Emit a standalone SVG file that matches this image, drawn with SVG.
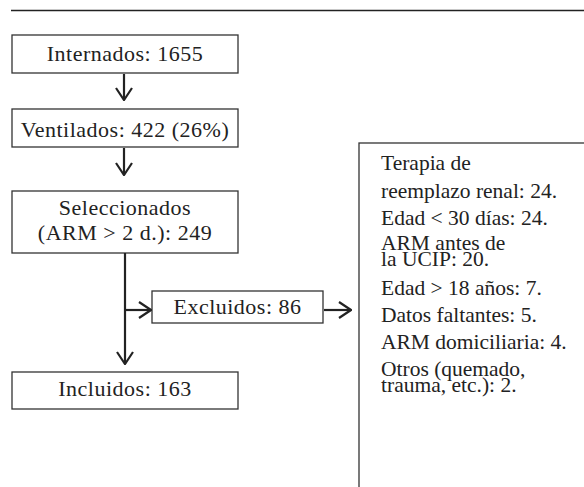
<svg xmlns="http://www.w3.org/2000/svg" width="584" height="487" viewBox="0 0 584 487">
<style>
.box{fill:#fff;stroke:#333;stroke-width:1.3}
.t{font-family:"Liberation Serif","Times New Roman",serif;font-size:22px;letter-spacing:0.5px;fill:#222}
.r{font-size:21.5px;letter-spacing:0}
.c{text-anchor:middle}
.ln{fill:none;stroke:#222;stroke-width:2.2}
</style>
<defs>
<marker id="ah" viewBox="0 0 14 18" refX="13" refY="9" markerWidth="14" markerHeight="18" markerUnits="userSpaceOnUse" orient="auto">
<polyline points="1,1 13,9 1,17" fill="none" stroke="#222" stroke-width="2.2"/>
</marker>
</defs>
<rect width="584" height="487" fill="#fff"/>
<line x1="11" y1="10.5" x2="584" y2="10.5" stroke="#222" stroke-width="1.5"/>
<g id="n1"><rect class="box" x="12" y="35" width="226" height="38"/><text class="t c" x="125" y="61">Internados: 1655</text></g>
<g id="n2"><rect class="box" x="12" y="109" width="226" height="38"/><text class="t c" x="125" y="137">Ventilados: 422 (26%)</text></g>
<g id="n3"><rect class="box" x="12" y="191" width="226" height="62"/><text class="t c" x="125" y="215">Seleccionados</text><text class="t c" x="125" y="240">(ARM &gt; 2 d.): 249</text></g>
<g id="n4"><rect class="box" x="152" y="291" width="171" height="32"/><text class="t c" x="237.5" y="314">Excluidos: 86</text></g>
<g id="n5"><rect class="box" x="12" y="372" width="226" height="37"/><text class="t c" x="125" y="396">Incluidos: 163</text></g>
<g id="n6"><rect class="box" x="359" y="143" width="240" height="360"/>
<text class="t r" x="381" y="170">Terapia de</text>
<text class="t r" x="381" y="198">reemplazo renal: 24.</text>
<text class="t r" x="381" y="225">Edad &lt; 30 días: 24.</text>
<text class="t r" x="381" y="250">ARM antes de</text>
<text class="t r" x="381" y="266">la UCIP: 20.</text>
<text class="t r" x="381" y="295">Edad &gt; 18 años: 7.</text>
<text class="t r" x="381" y="322">Datos faltantes: 5.</text>
<text class="t r" x="381" y="349">ARM domiciliaria: 4.</text>
<text class="t r" x="381" y="376">Otros (quemado,</text>
<text class="t r" x="381" y="392">trauma, etc.): 2.</text>
</g>
<g id="connectors">
<line class="ln" x1="124" y1="74" x2="124" y2="100" marker-end="url(#ah)"/>
<line class="ln" x1="124" y1="148" x2="124" y2="175" marker-end="url(#ah)"/>
<line class="ln" x1="125" y1="253" x2="125" y2="364" marker-end="url(#ah)"/>
<line class="ln" x1="125" y1="310" x2="151" y2="310" marker-end="url(#ah)"/>
<line class="ln" x1="324" y1="310" x2="351" y2="310" marker-end="url(#ah)"/>
</g>
</svg>
